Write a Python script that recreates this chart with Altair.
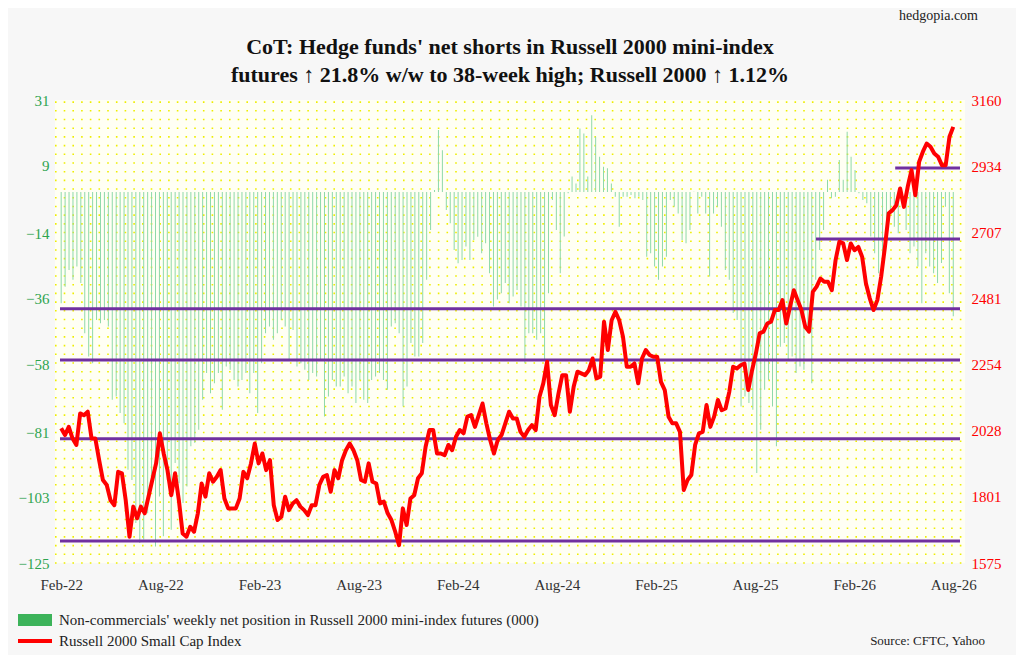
import altair as alt
import numpy as np
import pandas as pd

# weekly net position of non-commercials, thousands of contracts
net_pos = [
    -37.5, -31.9, -26.3, -29.6, -25.1, -30.7, -47.6, -55.4, -57.7, -43.1,
    -44.2, -43.1, -45.3, -70.0, -68.9, -74.5, -77.9, -93.6, -97.0, -111.5,
    -118.3, -117.1, -108.2, -97.0, -119.4, -102.6, -116.0, -97.0, -113.8, -91.3,
    -98.1, -104.8, -99.2, -85.7, -84.6, -80.1, -70.0, -61.0, -67.8, -64.4,
    -61.0, -73.4, -58.8, -59.9, -63.3, -65.5, -63.3, -61.0, -67.8, -61.0,
    -74.5, -57.7, -47.6, -45.3, -49.8, -47.6, -43.1, -45.3, -56.5, -46.5,
    -58.8, -57.7, -59.9, -63.3, -61.0, -62.2, -56.5, -75.6, -68.9, -63.3,
    -65.5, -65.5, -62.2, -67.8, -65.5, -71.1, -63.3, -70.0, -71.1, -63.3,
    -62.2, -61.0, -63.3, -66.6, -45.3, -44.2, -47.6, -72.3, -65.5, -50.9,
    -55.4, -55.4, -50.9, -29.6, -12.8, 0.7, 20.9, 14.1, -6.1, -10.5,
    -19.5, -24.0, -22.9, -18.4, -22.9, -16.2, -15.1, -20.6, -17.3, -27.4,
    -38.6,
    -36.2, -34.1, -30.7, -37.5, -35.2, -33.0, -38.6, -57.7, -47.6, -47.6,
    -49.8, -47.6, -56.5, -34.1, -2.7, -12.8, -27.4, -15.0, -0.4, 5.2,
    2.9, 21.4, 19.7, 5.2, 25.9, 18.6, 11.9, 8.5, 8.0, 2.9,
    -1.6, -11.7, -1.6, -1.6, -1.0, -2.1, -1.6, -2.7, -21.8, -20.6,
    -25.1, -29.6, -25.1, -21.8, -2.7, -5.0, -7.2, -16.2, -17.3, -12.8,
    0.1, -7.2, -1.6, -7.2, -28.5, -7.2, -5.0, -11.7, -26.3, -29.6,
    -40.8, -43.1, -72.3, -68.9, -71.1, -73.4, -94.7, -80.1, -66.6, -63.3,
    -72.3, -85.7, -52.1, -50.9, -56.5, -55.4, -61.0, -58.8, -59.9, -47.6,
    -64.4, -29.6, -19.5, -12.8, 4.1, -2.1, -1.6, 10.8, 4.1, 20.3,
    11.9, 7.4, -0.4, -2.7, -3.8, -15.0, -20.6, -27.4, -25.1, -13.9,
    -7.2, -11.7, -13.9, -3.8, -12.8, -20.6, -18.4, -25.1, -37.5, -20.6,
    -25.1, -27.4, -30.7, -23.9, -5.0, -34.1, -41.9,
]

# Russell 2000 weekly close
r2k = [
    2036, 2013, 2041, 2001, 1979, 2087, 2081, 2093, 2001, 2001,
    1927, 1859, 1842, 1790, 1773, 1887, 1882, 1790, 1665, 1768,
    1728, 1768, 1745, 1802, 1859, 1916, 2019, 1950, 1893, 1807,
    1882, 1790, 1676, 1665, 1699, 1682, 1745, 1847, 1802, 1882,
    1853, 1870, 1893, 1796, 1762, 1762, 1762, 1796, 1887, 1865,
    1916, 1984, 1916, 1950, 1893, 1927, 1773, 1722, 1733, 1802,
    1756, 1779, 1790, 1768, 1756, 1739, 1773, 1773, 1842, 1870,
    1876, 1819, 1893, 1865, 1927, 1961, 1984, 1961, 1927, 1859,
    1853, 1916, 1853, 1847, 1779, 1785, 1745, 1722, 1682, 1636,
    1762, 1705, 1796, 1807, 1865, 1882, 1973, 2030, 2030, 1950,
    1950, 1944, 1979, 1961, 2007, 2030, 2019, 2076, 2081, 2041,
    2081, 2121, 2053, 1996, 1950, 1996,
    2013, 2053, 2093, 2070, 2070, 2024, 2007, 2030, 2047, 2030,
    2144, 2190, 2264, 2116, 2081, 2155, 2218, 2218, 2093, 2178,
    2230, 2224, 2218, 2235, 2275, 2207, 2213, 2401, 2304, 2406,
    2435, 2406, 2349, 2247, 2247, 2258, 2190, 2275, 2304, 2287,
    2281, 2281, 2195, 2167, 2076, 2053, 2053, 2024, 1825, 1859,
    1876, 1979, 2019, 2024, 2116, 2041, 2076, 2133, 2098, 2104,
    2161, 2247, 2241, 2252, 2258, 2167, 2235, 2292, 2361, 2367,
    2395, 2401, 2441, 2441, 2475, 2395, 2452, 2509, 2475, 2441,
    2384, 2367, 2503, 2521, 2549, 2538, 2538, 2509, 2612, 2675,
    2669, 2612, 2669, 2646, 2657, 2623, 2532, 2481, 2441, 2475,
    2555, 2657, 2772, 2783, 2800, 2857, 2794, 2863, 2920, 2834,
    2948, 2983, 3011, 3000, 2977, 2966, 2937, 2937, 3034, 3068,
]

# purple support/resistance lines (right axis), with where they start (fraction of the span)
level_values = [2445, 2270, 2000, 1650, 2684, 2927]
level_start = [0.0, 0.0, 0.0, 0.0, 0.84, 0.928]

x_labels = ["Feb-22", "Aug-22", "Feb-23", "Aug-23", "Feb-24",
            "Aug-24", "Feb-25", "Aug-25", "Feb-26", "Aug-26"]
left_ticks = [-125, -103, -81, -58, -36, -14, 9, 31]
right_ticks = [1575, 1801, 2028, 2254, 2481, 2707, 2934, 3160]

W, H = 910, 463
FONT = "Liberation Serif"
nb = len(net_pos)
last = nb - 1
d0 = -0.3
d1 = d0 + last * W / 902
xscale = alt.Scale(domain=[d0, d1], nice=False, zero=False)
lscale = alt.Scale(domain=[-125, 31], nice=False, zero=False)
rscale = alt.Scale(domain=[1575, 3160], nice=False, zero=False)

bars = pd.DataFrame({"w": np.arange(nb), "v": net_pos})
line = pd.DataFrame({"w": np.arange(len(r2k)) * last / (len(r2k) - 1), "p": r2k})
levels = pd.DataFrame({"lvl": level_values,
                       "x0": [d0 + s * (d1 - d0) for s in level_start],
                       "x1": [d1] * len(level_values)})
tick_pos = [k * last / 9 for k in range(10)]
step = last / 9
label_expr = "[" + ",".join(f"'{s}'" for s in x_labels) + "][round(datum.value/%f)]" % step

# yellow dotted background
dots = pd.DataFrame({"g": np.arange(-125, 31.5, 2.93)})
dot_layer = alt.Chart(dots).mark_rule(color="#eeee00", strokeWidth=1.6, strokeDash=[1.6, 7.1]).encode(
    y=alt.Y("g:Q", scale=lscale, axis=None),
    x=alt.value(0), x2=alt.value(W),
)

bar_layer = alt.Chart(bars).mark_bar(width=1, color="#8ed9a9").encode(
    x=alt.X("w:Q", scale=xscale, title=None,
            axis=alt.Axis(values=tick_pos, labelExpr=label_expr, grid=False, ticks=False,
                          domain=False, labelFont=FONT, labelFontSize=15, labelColor="#333333",
                          labelPadding=14, labelFlush=False)),
    y=alt.Y("v:Q", scale=lscale, title=None,
            axis=alt.Axis(values=left_ticks, grid=False, ticks=False, domain=False,
                          labelFont=FONT, labelFontSize=15, labelColor="#2ea44f", labelPadding=6)),
    y2=alt.datum(0),
)

level_layer = alt.Chart(levels).mark_rule(color="#7030a0", strokeWidth=3).encode(
    x=alt.X("x0:Q", scale=xscale), x2="x1:Q",
    y=alt.Y("lvl:Q", scale=rscale, axis=None),
)

price_layer = alt.Chart(line).mark_line(color="#ff0000", strokeWidth=4, strokeJoin="round").encode(
    x=alt.X("w:Q", scale=xscale),
    y=alt.Y("p:Q", scale=rscale, title=None,
            axis=alt.Axis(values=right_ticks, format="d", orient="right", grid=False, ticks=False,
                          domain=False, labelFont=FONT, labelFontSize=15, labelColor="#ff0000",
                          labelPadding=6)),
)

one = pd.DataFrame({"a": [0]})
green_key = alt.Chart(one).mark_rect(color="#3cb35a").encode(
    x=alt.value(-37), x2=alt.value(-3), y=alt.value(514), y2=alt.value(526))
red_key = alt.Chart(one).mark_rule(color="#ff0000", strokeWidth=4).encode(
    x=alt.value(-37), x2=alt.value(-3), y=alt.value(541))
txt = dict(font=FONT, fontSize=15, color="#222222", baseline="middle")
key1 = alt.Chart(one).mark_text(align="left", **txt).encode(
    x=alt.value(4), y=alt.value(520),
    text=alt.value("Non-commercials' weekly net position in Russell 2000 mini-index futures (000)"))
key2 = alt.Chart(one).mark_text(align="left", **txt).encode(
    x=alt.value(4), y=alt.value(541), text=alt.value("Russell 2000 Small Cap Index"))
source = alt.Chart(one).mark_text(align="right", font=FONT, fontSize=13, color="#222222",
                                  baseline="middle").encode(
    x=alt.value(930), y=alt.value(541), text=alt.value("Source: CFTC, Yahoo"))
brand = alt.Chart(one).mark_text(align="right", font=FONT, fontSize=14, color="#222222",
                                 baseline="middle").encode(
    x=alt.value(923), y=alt.value(-84), text=alt.value("hedgopia.com"))
ttl = dict(font=FONT, fontSize=22, fontWeight="bold", color="#111111", align="center",
           baseline="middle")
title1 = alt.Chart(one).mark_text(**ttl).encode(
    x=alt.value(455), y=alt.value(-53),
    text=alt.value("CoT: Hedge funds' net shorts in Russell 2000 mini-index"))
title2 = alt.Chart(one).mark_text(**ttl).encode(
    x=alt.value(455), y=alt.value(-25),
    text=alt.value("futures \u2191 21.8% w/w to 38-week high; Russell 2000 \u2191 1.12%"))

chart = alt.layer(
    dot_layer, bar_layer, level_layer, price_layer,
    green_key, red_key, key1, key2, source, brand, title1, title2,
).resolve_scale(y="independent").properties(
    width=W, height=H,
    autosize=alt.AutoSizeParams(type="none"),
    padding={"left": 47, "top": 92, "right": 51, "bottom": 92},
    background="#f7f7f7",
).configure_view(fill="#fffff4", stroke=None)

chart.save("out.html", embed_options={"renderer": "svg", "actions": False})
